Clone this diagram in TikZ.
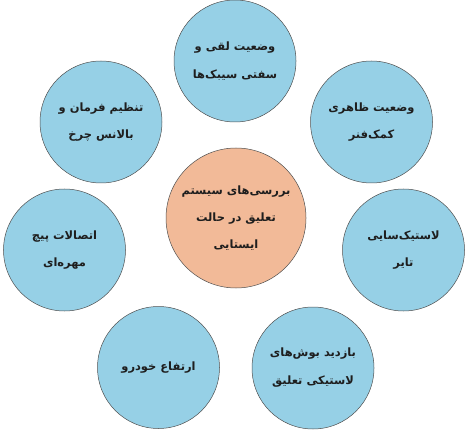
\documentclass[tikz,border=0pt]{standalone}
\usepackage{fontspec}
\TeXXeTstate=1
\newfontfamily\arabicfont[Script=Arabic,BoldFont={DejaVu Sans Bold}]{DejaVu Sans}
\definecolor{bluefill}{RGB}{150,208,230}
\definecolor{orangefill}{RGB}{242,186,152}
\definecolor{edgegray}{RGB}{80,80,80}
\definecolor{textdark}{RGB}{30,30,30}
\newcommand{\rl}[1]{\beginR #1\endR}
\begin{document}
\begin{tikzpicture}[x=1bp,y=-1bp,
  bubble/.style={circle,draw=edgegray,line width=0.5bp,fill=bluefill,minimum size=122bp,inner sep=0pt,align=center,
    text=textdark,font=\arabicfont\bfseries\fontsize{11.5}{28}\selectfont},
  hub/.style={bubble,fill=orangefill,minimum size=140bp,font=\arabicfont\bfseries\fontsize{11.5}{27}\selectfont}]
\useasboundingbox (0,0) rectangle (468,433);
\node[hub] (c) at (236,218) {\rl{بررسی‌های سیستم}\\\rl{تعلیق در حالت}\\\rl{ایستایی}};
\node[bubble] (t) at (235,61) {\rl{وضعیت لقی و}\\\rl{سفتی سیبک‌ها}};
\node[bubble] (tr) at (371.5,122) {\rl{وضعیت ظاهری}\\\rl{کمک‌فنر}};
\node[bubble] (r) at (403.5,250) {\rl{لاستیک‌سایی}\\\rl{تایر}};
\node[bubble] (br) at (313,368) {\rl{بازدید بوش‌های}\\\rl{لاستیکی تعلیق}};
\node[bubble] (bl) at (158.5,367.5) {\rl{ارتفاع خودرو}};
\node[bubble] (l) at (64.5,250) {\rl{اتصالات پیچ}\\\rl{مهره‌ای}};
\node[bubble] (tl) at (101,122) {\rl{تنظیم فرمان و}\\\rl{بالانس چرخ}};
\end{tikzpicture}
\end{document}
